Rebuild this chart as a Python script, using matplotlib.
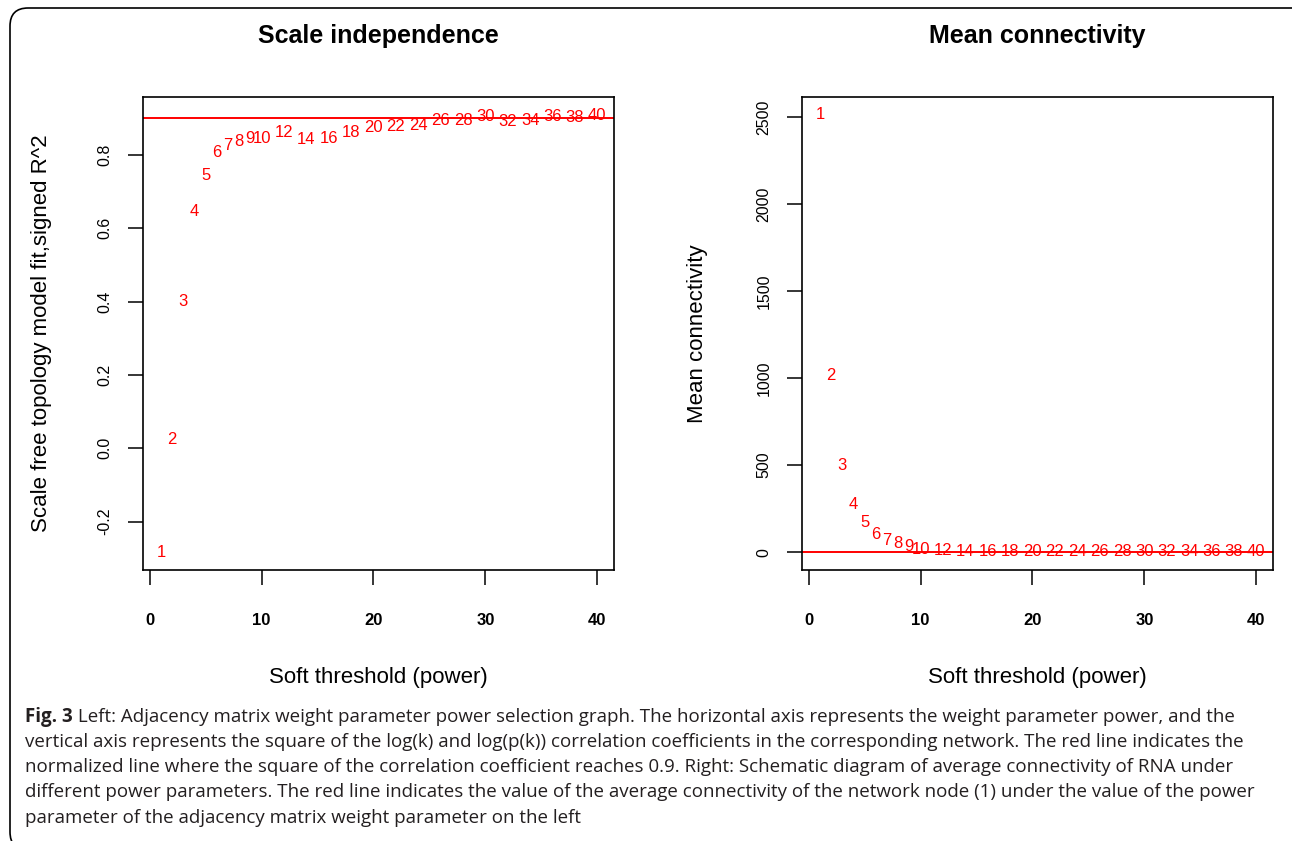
import matplotlib
matplotlib.use("Agg")
import matplotlib.pyplot as plt
from matplotlib import font_manager
from matplotlib.patches import FancyBboxPatch

W, H = 1292, 841

POWERS = [1, 2, 3, 4, 5, 6, 7, 8, 9, 10, 12, 14, 16, 18, 20,
          22, 24, 26, 28, 30, 32, 34, 36, 38, 40]
SFT_R2 = [-0.285, 0.025, 0.400, 0.645, 0.745, 0.807, 0.827, 0.836, 0.845, 0.845,
          0.861, 0.841, 0.845, 0.861, 0.875, 0.877, 0.880, 0.895, 0.895, 0.904,
          0.891, 0.895, 0.904, 0.903, 0.907]
MEAN_K = [2515, 1013, 500, 274, 168, 103, 65, 50, 30, 17,
          11, 6, 5, 4, 3, 1, 1, 1, 1, 1, 1, 1, 1, 1, 1]
R2_CUT = 0.90
K_CUT = 1

X_TICKS = [0, 10, 20, 30, 40]
Y_TICKS_L = [-0.2, 0.0, 0.2, 0.4, 0.6, 0.8]
Y_TICKS_R = [0, 500, 1000, 1500, 2000, 2500]

CAPTION = [
    " Left: Adjacency matrix weight parameter power selection graph. The horizontal axis represents the weight parameter power, and the",
    "vertical axis represents the square of the log(k) and log(p(k)) correlation coefficients in the corresponding network. The red line indicates the",
    "normalized line where the square of the correlation coefficient reaches 0.9. Right: Schematic diagram of average connectivity of RNA under",
    "different power parameters. The red line indicates the value of the average connectivity of the network node (1) under the value of the power",
    "parameter of the adjacency matrix weight parameter on the left",
]

names = {f.name for f in font_manager.fontManager.ttflist}
SANS = "Liberation Sans"
NARROW = "Liberation Sans Narrow" if "Liberation Sans Narrow" in names else SANS
TITLE_SIZE = 21 if NARROW != SANS else 18
CAP_FONT = "Open Sans"

plt.rcParams["font.family"] = [SANS, "DejaVu Sans"]

fig = plt.figure(figsize=(W / 100, H / 100), dpi=100)


def fx(px):
    return px / W


def fy(py):
    return 1 - py / H


def panel(left, right, x, y, ylim, yticks, ylabel, title, hline, ylab_x):
    ax = fig.add_axes([fx(left), fy(570), fx(right - left), (570 - 97) / H])
    for xi, yi in zip(x, y):
        ax.text(xi, yi, str(xi), color="red", fontsize=12,
                ha="center", va="center")
    ax.axhline(hline, color="red", lw=1.4)
    ax.set_xlim(-0.6, 41.5)
    ax.set_ylim(*ylim)
    ax.set_xticks(X_TICKS)
    ax.set_yticks(yticks)
    ax.set_yticklabels([f"{t:g}" if isinstance(t, int) else f"{t:.1f}" for t in yticks],
                       rotation=90, va="center")
    ax.tick_params(axis="x", length=11, width=1.1, pad=20, labelsize=12)
    ax.tick_params(axis="y", length=11, width=1.1, pad=11, labelsize=11.5)
    for lab in ax.get_xticklabels():
        lab.set_fontweight("bold")
    for s in ax.spines.values():
        s.set_linewidth(1.2)
    ax.set_xlabel("Soft threshold (power)", fontsize=16)
    ax.xaxis.set_label_coords(0.5, -(677 - 570) / 473)
    ax.xaxis.label.set_va("center")
    ax.set_ylabel(ylabel, fontsize=16)
    ax.yaxis.set_label_coords((ylab_x - left) / (right - left), 0.5)
    ax.yaxis.label.set_va("center")
    ax.yaxis.label.set_ha("center")
    fig.text(fx((left + right) / 2), fy(36), title, family=[NARROW, "DejaVu Sans"],
             fontsize=TITLE_SIZE, fontweight="bold", ha="center", va="center")
    return ax


panel(143, 614, POWERS, SFT_R2, (-0.332, 0.958), Y_TICKS_L,
      "Scale free topology model fit,signed R^2", "Scale independence", R2_CUT, 42)
panel(802, 1273, POWERS, MEAN_K, (-103, 2615), Y_TICKS_R,
      "Mean connectivity", "Mean connectivity", K_CUT, 698)

# rounded frame, cut off on the right and bottom like the scanned figure
frame = FancyBboxPatch((fx(10), fy(850)), fx(1320 - 10), (850 - 8) / H,
                       boxstyle="round,pad=0,rounding_size=0.014",
                       mutation_aspect=W / H, transform=fig.transFigure,
                       fill=False, ec="black", lw=1.2, clip_on=False)
fig.add_artist(frame)

# caption: fit first line to its width in the reference
renderer = fig.canvas.get_renderer()
cap_color = "#231f20"
size = 13.0
probe_b = fig.text(0, 0, "Fig. 3", family=CAP_FONT, fontweight="bold", fontsize=size)
probe_r = fig.text(0, 0, CAPTION[0], family=CAP_FONT, fontsize=size)
wid = probe_b.get_window_extent(renderer).width + probe_r.get_window_extent(renderer).width
probe_b.remove()
probe_r.remove()
size = size * (1232 - 25) / wid

line_y = [717, 742, 767, 792, 818]
fig_b = fig.text(fx(25), fy(line_y[0]), "Fig. 3", family=CAP_FONT, fontweight="bold",
                 fontsize=size, color=cap_color, va="center")
bw = fig_b.get_window_extent(renderer).width
fig.text(fx(25 + bw), fy(line_y[0]), CAPTION[0], family=CAP_FONT, fontsize=size,
         color=cap_color, va="center")
for txt, ly in zip(CAPTION[1:], line_y[1:]):
    fig.text(fx(25), fy(ly), txt, family=CAP_FONT, fontsize=size,
             color=cap_color, va="center")

fig.savefig("out.png", dpi=100)
